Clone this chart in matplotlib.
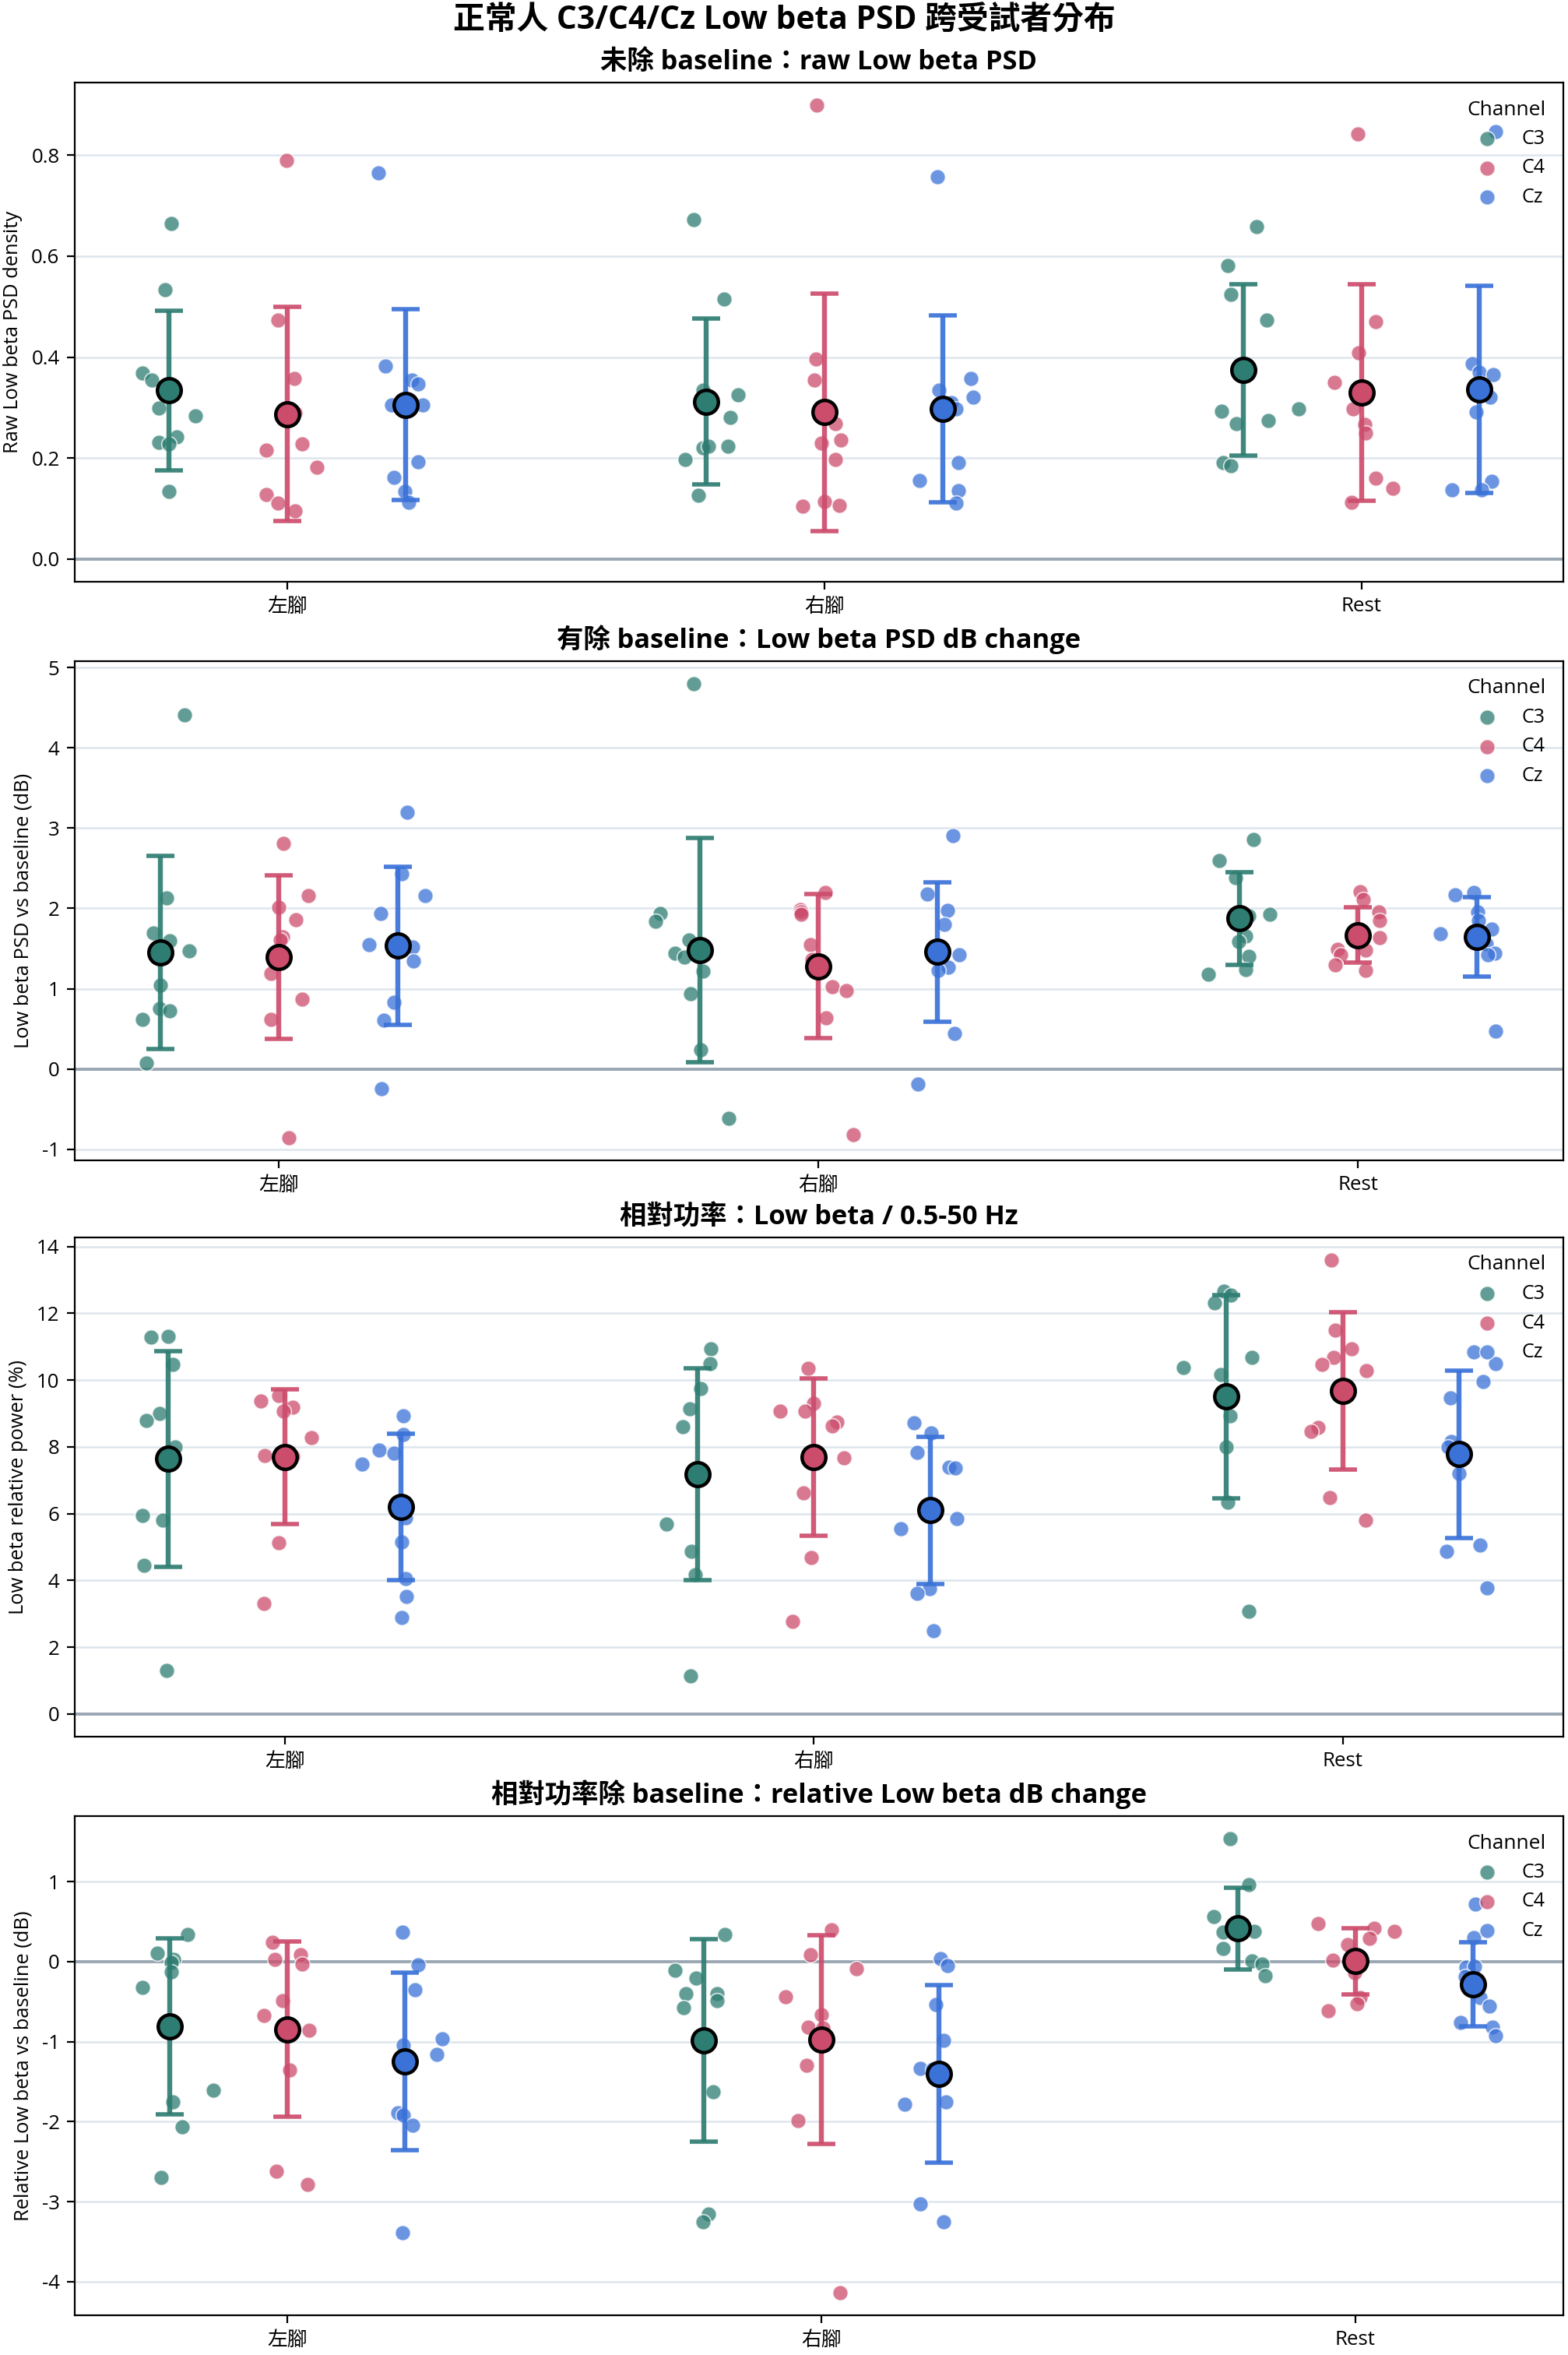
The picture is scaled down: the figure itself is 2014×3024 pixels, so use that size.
import numpy as np
import matplotlib
matplotlib.use("Agg")
import matplotlib.pyplot as plt

plt.rcParams['font.family'] = ['Open Sans', 'Noto Sans CJK TC', 'DejaVu Sans']
plt.rcParams['axes.unicode_minus'] = False

# ---------------- data ----------------
conditions = ['左腳', '右腳', 'Rest']
channels = ['C3', 'C4', 'Cz']

# Panel 1: raw Low beta PSD (rows: 左腳, 右腳, Rest)
raw_C3 = [[0.664, 0.533, 0.369, 0.355, 0.299, 0.284, 0.242, 0.231, 0.228, 0.134],
          [0.672, 0.515, 0.334, 0.326, 0.281, 0.221, 0.224, 0.223, 0.197, 0.126],
          [0.658, 0.581, 0.524, 0.473, 0.298, 0.293, 0.275, 0.268, 0.191, 0.185]]
raw_C4 = [[0.790, 0.473, 0.357, 0.290, 0.228, 0.216, 0.182, 0.128, 0.111, 0.095],
          [0.899, 0.397, 0.354, 0.268, 0.236, 0.230, 0.197, 0.114, 0.106, 0.105],
          [0.842, 0.471, 0.409, 0.350, 0.298, 0.267, 0.250, 0.160, 0.140, 0.112]]
raw_Cz = [[0.765, 0.382, 0.355, 0.347, 0.305, 0.305, 0.193, 0.162, 0.134, 0.112],
          [0.758, 0.358, 0.321, 0.335, 0.310, 0.298, 0.191, 0.156, 0.136, 0.111],
          [0.847, 0.387, 0.370, 0.366, 0.349, 0.321, 0.292, 0.154, 0.137, 0.137]]
raw_C3_jitter = [[0.004, -0.008, -0.050, -0.033, -0.020, 0.049, 0.014, -0.019, -0.001, -0.001],
                 [-0.023, 0.033, -0.006, 0.059, 0.045, -0.006, 0.004, 0.041, -0.039, -0.014],
                 [0.025, -0.029, -0.023, 0.043, 0.103, -0.041, 0.046, -0.013, -0.037, -0.023]]
raw_C4_jitter = [[-0.002, -0.018, 0.013, 0.015, 0.027, -0.040, 0.055, -0.039, -0.017, 0.014],
                 [-0.014, -0.016, -0.019, 0.021, 0.030, -0.006, 0.021, 0.000, 0.027, -0.040],
                 [-0.007, 0.026, -0.006, -0.050, -0.016, 0.007, 0.008, 0.027, 0.059, -0.018]]
raw_Cz_jitter = [[-0.050, -0.037, 0.012, 0.023, -0.026, 0.032, 0.023, -0.021, -0.002, 0.006],
                 [-0.010, 0.052, 0.057, -0.007, 0.016, 0.025, 0.029, -0.043, 0.029, 0.025],
                 [0.030, -0.014, 0.000, 0.025, 0.001, 0.019, -0.006, 0.022, -0.051, 0.004]]

# Panel 2: Low beta PSD dB change vs baseline
db_C3 = [[4.413, 2.126, 1.697, 1.600, 1.474, 1.040, 0.749, 0.720, 0.619, 0.076],
         [4.796, 1.937, 1.844, 1.608, 1.444, 1.389, 1.221, 0.939, 0.240, -0.615],
         [2.855, 2.594, 2.387, 1.912, 1.924, 1.659, 1.583, 1.406, 1.238, 1.183]]
db_C4 = [[2.813, 2.156, 2.017, 1.861, 1.646, 1.604, 1.192, 0.872, 0.619, -0.855],
         [2.202, 1.987, 1.958, 1.928, 1.545, 1.360, 1.027, 0.981, 0.640, -0.817],
         [2.211, 2.114, 1.954, 1.853, 1.638, 1.486, 1.423, 1.482, 1.301, 1.225]]
db_Cz = [[3.200, 2.434, 2.164, 1.937, 1.545, 1.520, 1.347, 0.834, 0.611, -0.244],
         [2.909, 2.181, 1.979, 1.802, 1.530, 1.419, 1.267, 1.225, 0.442, -0.185],
         [2.173, 2.194, 1.954, 1.848, 1.739, 1.688, 1.554, 1.444, 1.423, 0.476]]
db_C3_jitter = [[0.045, 0.012, -0.013, 0.018, 0.053, 0.000, -0.001, 0.017, -0.033, -0.025],
                [-0.011, -0.073, -0.082, -0.020, -0.046, -0.028, 0.006, -0.017, 0.001, 0.053],
                [0.026, -0.037, -0.007, 0.018, 0.056, 0.011, -0.002, 0.018, 0.011, -0.057]]
db_C4_jitter = [[0.008, 0.055, -0.001, 0.032, 0.007, 0.002, -0.015, 0.043, -0.015, 0.018],
                [0.013, -0.033, -0.032, -0.032, -0.015, -0.012, 0.026, 0.052, 0.014, 0.064],
                [0.004, 0.010, 0.038, 0.040, 0.040, -0.038, -0.032, 0.014, -0.042, 0.014]]
db_Cz_jitter = [[0.018, 0.008, 0.051, -0.031, -0.053, 0.028, 0.029, -0.007, -0.025, -0.030],
                [0.029, -0.018, 0.019, 0.013, 0.001, 0.040, 0.020, 0.002, 0.032, -0.036],
                [-0.040, -0.006, 0.002, 0.003, 0.028, -0.068, 0.018, 0.033, 0.020, 0.035]]

# Panel 3: relative power (%)
rel_C3 = [[11.28, 11.30, 10.47, 9.01, 8.80, 7.99, 5.94, 5.81, 4.46, 1.31],
          [10.93, 10.48, 9.74, 9.14, 8.61, 7.12, 5.69, 4.88, 4.18, 1.13],
          [12.65, 12.55, 12.30, 10.67, 10.37, 10.16, 8.94, 7.99, 6.33, 3.08]]
rel_C4 = [[9.54, 9.38, 9.19, 9.07, 8.28, 7.73, 7.72, 7.65, 5.13, 3.31],
          [10.34, 9.31, 9.07, 9.07, 8.75, 8.63, 7.68, 6.62, 4.69, 2.77],
          [13.59, 11.50, 10.93, 10.68, 10.46, 10.27, 8.59, 8.47, 6.49, 5.81]]
rel_Cz = [[8.92, 8.36, 7.90, 7.81, 7.49, 5.87, 5.15, 4.06, 3.51, 2.89],
          [8.73, 8.42, 7.84, 7.39, 7.37, 5.85, 5.55, 3.76, 3.62, 2.49],
          [10.84, 10.50, 9.95, 9.46, 8.17, 7.99, 7.21, 5.06, 4.88, 3.78]]
rel_C3_jitter = [[-0.032, -0.001, 0.009, -0.017, -0.042, 0.013, -0.049, -0.011, -0.046, -0.003],
                 [0.026, 0.024, 0.006, -0.015, -0.027, 0.000, -0.058, -0.012, -0.004, -0.013],
                 [-0.005, 0.008, -0.023, 0.048, -0.082, -0.011, 0.007, 0.000, 0.003, 0.042]]
rel_C4_jitter = [[-0.012, -0.045, 0.015, -0.003, 0.051, -0.038, 0.015, 0.001, -0.012, -0.040],
                 [-0.010, -0.001, -0.063, -0.016, 0.044, 0.035, 0.057, -0.019, -0.004, -0.040],
                 [-0.022, -0.014, 0.016, -0.017, -0.039, 0.044, -0.046, -0.060, -0.024, 0.043]]
rel_Cz_jitter = [[0.004, 0.004, -0.042, -0.013, -0.074, 0.009, 0.001, 0.008, 0.010, 0.001],
                 [-0.031, 0.002, -0.025, 0.036, 0.047, 0.050, -0.055, -0.001, -0.024, 0.007],
                 [0.027, 0.069, 0.045, -0.016, -0.015, -0.021, 0.000, 0.040, -0.024, 0.053]]

# Panel 4: relative Low beta dB change vs baseline
rdb_C3 = [[0.337, 0.105, 0.031, -0.009, -0.131, -0.324, -1.611, -1.751, -2.062, -2.701],
          [0.337, -0.109, -0.206, -0.403, -0.403, -0.486, -0.578, -1.624, -3.152, -3.249],
          [1.537, 0.963, 0.565, 0.378, 0.372, 0.381, 0.166, 0.009, -0.031, -0.180]]
rdb_C4 = [[0.241, 0.088, 0.031, -0.026, -0.490, -0.670, -0.854, -1.357, -2.618, -2.785],
          [0.398, 0.088, -0.092, -0.442, -0.665, -0.814, -0.823, -1.300, -1.983, -4.137],
          [0.473, 0.416, 0.381, 0.293, 0.210, 0.018, -0.136, -0.451, -0.530, -0.617]]
rdb_Cz = [[0.368, -0.035, -0.346, -0.968, -1.042, -1.156, -1.887, -1.922, -2.049, -3.384],
          [0.035, -0.044, -0.539, -0.985, -1.335, -1.344, -1.751, -1.786, -3.025, -3.253],
          [0.718, 0.302, -0.070, -0.061, -0.188, -0.447, -0.552, -0.762, -0.814, -0.928]]
rdb_C3_jitter = [[0.034, -0.023, 0.008, 0.003, 0.003, -0.051, 0.082, 0.006, 0.023, -0.016],
                 [0.039, -0.054, -0.015, -0.034, 0.025, 0.025, -0.038, 0.018, 0.009, -0.001],
                 [-0.014, 0.021, -0.045, 0.000, -0.027, 0.031, -0.028, 0.026, 0.046, 0.052]]
rdb_C4_jitter = [[-0.028, 0.025, -0.023, 0.028, -0.008, -0.044, 0.041, 0.004, -0.020, 0.038],
                 [0.019, -0.020, 0.066, -0.067, 0.001, -0.025, 0.003, -0.028, -0.044, 0.036],
                 [-0.070, 0.035, 0.073, 0.026, -0.014, -0.042, -0.001, 0.009, 0.004, -0.050]]
rdb_Cz_jitter = [[-0.004, 0.025, 0.019, 0.071, -0.002, 0.060, -0.012, -0.002, 0.015, -0.004],
                 [0.004, 0.017, -0.006, 0.009, -0.034, -0.011, 0.013, -0.064, -0.035, 0.009],
                 [0.005, 0.002, -0.013, 0.004, -0.014, 0.013, 0.031, -0.023, 0.037, 0.043]]

suptitle = '正常人 C3/C4/Cz Low beta PSD 跨受試者分布'
panel_titles = ['未除 baseline：raw Low beta PSD',
                '有除 baseline：Low beta PSD dB change',
                '相對功率：Low beta / 0.5-50 Hz',
                '相對功率除 baseline：relative Low beta dB change']
panel_ylabels = ['Raw Low beta PSD density',
                 'Low beta PSD vs baseline (dB)',
                 'Low beta relative power (%)',
                 'Relative Low beta vs baseline (dB)']

panel_values = [dict(C3=raw_C3, C4=raw_C4, Cz=raw_Cz),
                dict(C3=db_C3, C4=db_C4, Cz=db_Cz),
                dict(C3=rel_C3, C4=rel_C4, Cz=rel_Cz),
                dict(C3=rdb_C3, C4=rdb_C4, Cz=rdb_Cz)]
panel_jitter = [dict(C3=raw_C3_jitter, C4=raw_C4_jitter, Cz=raw_Cz_jitter),
                dict(C3=db_C3_jitter, C4=db_C4_jitter, Cz=db_Cz_jitter),
                dict(C3=rel_C3_jitter, C4=rel_C4_jitter, Cz=rel_Cz_jitter),
                dict(C3=rdb_C3_jitter, C4=rdb_C4_jitter, Cz=rdb_Cz_jitter)]

# ---------------- style ----------------
colors = {'C3': '#2E7D72', 'C4': '#CC4C6C', 'Cz': '#3A72D8'}
dodge = {'C3': -0.22, 'C4': 0.0, 'Cz': 0.22}

W, H = 2015, 3024
DPI = 200
fig = plt.figure(figsize=(W / DPI, H / DPI), dpi=DPI)

ax_left, ax_right = 96, 2008
ax_tops = [106, 849, 1589, 2332]
ax_h = 641

fig.text(0.5, 1 - 27 / H, suptitle, ha='center', va='center',
         fontsize=14.7, fontweight='bold')

for p in range(4):
    top = ax_tops[p]
    ax = fig.add_axes([ax_left / W, 1 - (top + ax_h) / H,
                       (ax_right - ax_left) / W, ax_h / H])
    ax.set_axisbelow(True)
    ax.yaxis.grid(True, color='#dde5ed', linewidth=0.9)
    ax.axhline(0, color='#9aa7b3', linewidth=1.4, zorder=1)
    vals_p = panel_values[p]
    jit_p = panel_jitter[p]
    xs = np.arange(len(conditions))
    for ch in channels:
        for k in range(len(conditions)):
            v = np.asarray(vals_p[ch][k])
            j = np.asarray(jit_p[ch][k])
            ax.scatter(k + dodge[ch] + j, v, s=50, color=colors[ch], alpha=0.75,
                       edgecolors='white', linewidths=0.6, zorder=2,
                       label=ch if k == 0 else None)
        means = np.array([np.mean(v) for v in vals_p[ch]])
        sds = np.array([np.std(v, ddof=1) for v in vals_p[ch]])
        ax.errorbar(xs + dodge[ch], means, yerr=sds, fmt='none', ecolor=colors[ch],
                    elinewidth=2.3, capsize=6.5, capthick=2, alpha=0.92, zorder=3)
        ax.plot(xs + dodge[ch], means, 'o', ms=11, mfc=colors[ch], mec='black',
                mew=1.6, ls='none', zorder=4)
    ax.set_xticks(xs)
    ax.set_xticklabels(conditions)
    ax.tick_params(labelsize=9.3)
    ax.set_ylabel(panel_ylabels[p], fontsize=9.2)
    ax.set_title(panel_titles[p], fontsize=12.4, fontweight='bold')
    ax.legend(title='Channel', loc='upper right', frameon=False,
              fontsize=9, title_fontsize=9.5)

fig.savefig('out.png', dpi=DPI)
